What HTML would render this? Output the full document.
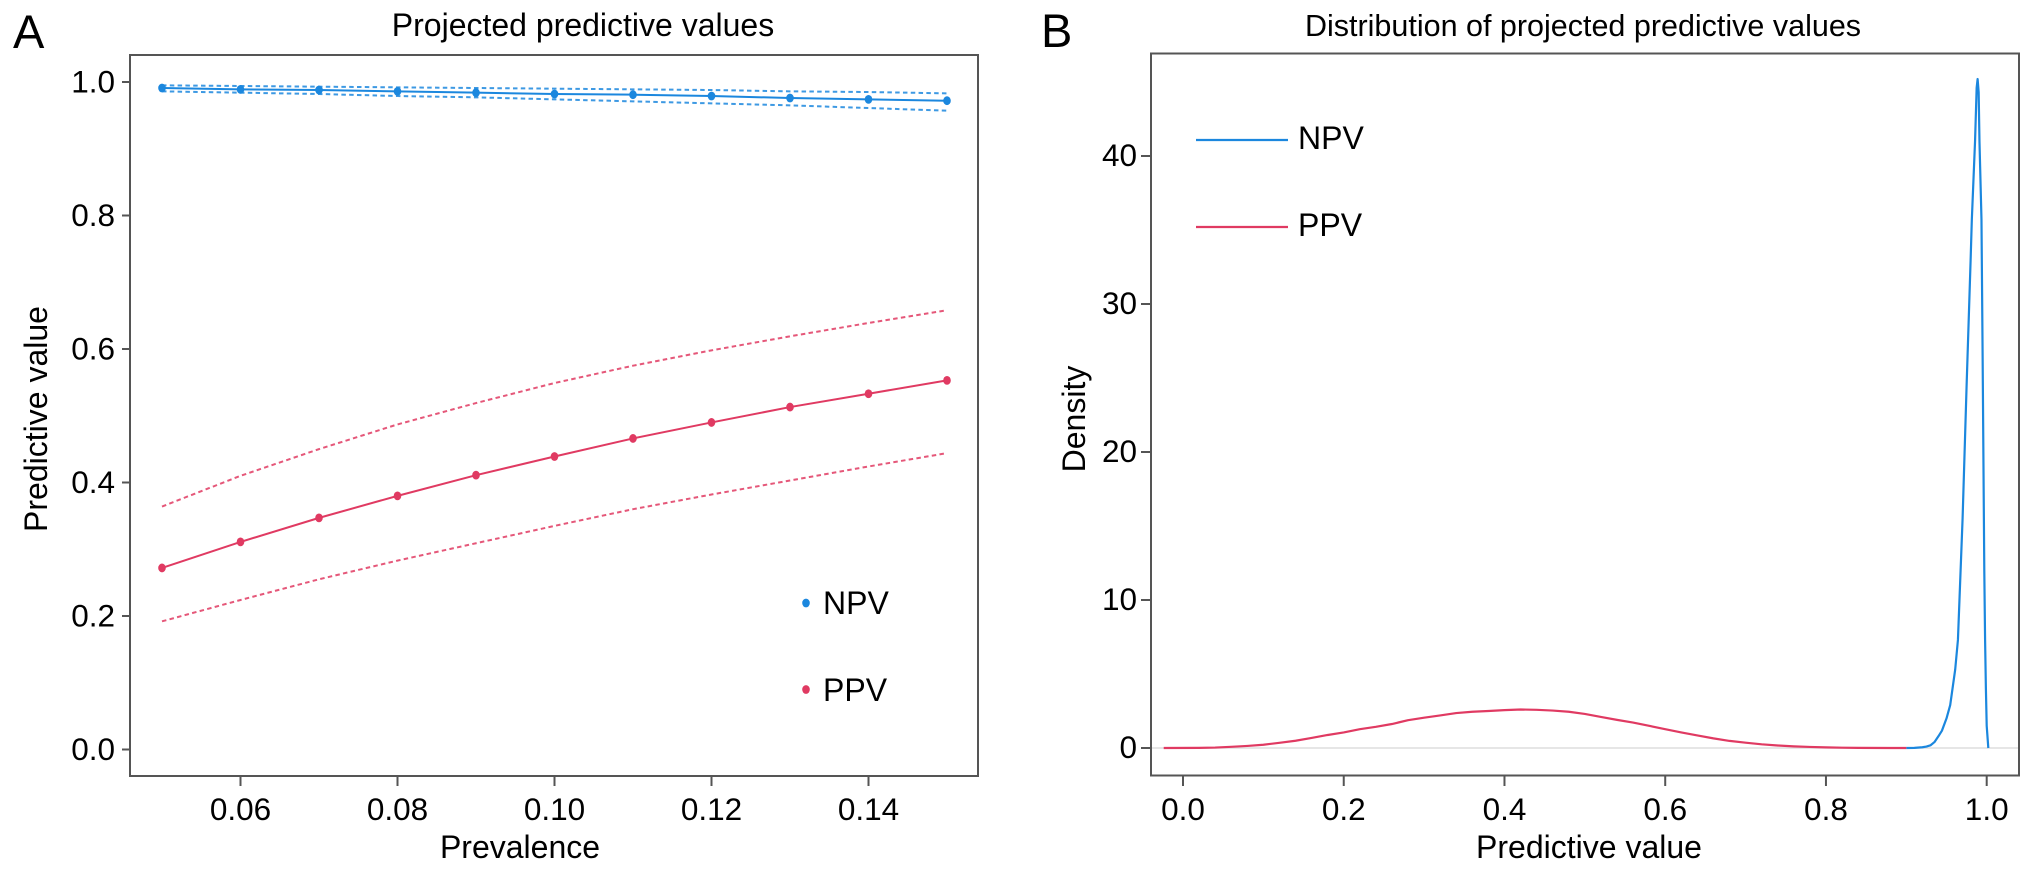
<!DOCTYPE html>
<html>
<head>
<meta charset="utf-8">
<title>Projected predictive values</title>
<style>
html,body{margin:0;padding:0;background:#fff;width:2032px;height:872px;overflow:hidden}
svg{display:block}
text{font-family:"Liberation Sans",Arial,sans-serif;fill:#000;font-size:31.5px}
</style>
</head>
<body>
<svg id="fig" width="2032" height="872" viewBox="0 0 2032 872" xmlns="http://www.w3.org/2000/svg">
  <rect width="2032" height="872" fill="#fff"/>
  <text x="13" y="48" style="font-size:47px">A</text>
  <text x="1041" y="47" style="font-size:47px">B</text>
  <text x="583" y="36" text-anchor="middle" style="font-size:32px">Projected predictive values</text>
  <text x="1583" y="36" text-anchor="middle" style="font-size:30.5px">Distribution of projected predictive values</text>
  <text x="520" y="858" text-anchor="middle" style="font-size:32px">Prevalence</text>
  <text x="1589" y="858" text-anchor="middle" style="font-size:32px">Predictive value</text>
  <text transform="translate(47,419) rotate(-90)" text-anchor="middle" style="font-size:32px">Predictive value</text>
  <text transform="translate(1085,419) rotate(-90)" text-anchor="middle" style="font-size:32px">Density</text>
  <g id="a"></g>
  <g id="b"></g>
  <rect x="130" y="55" width="848" height="721" fill="none" stroke="#555" stroke-width="2"/>
  <rect x="1151" y="53.5" width="868" height="722" fill="none" stroke="#555" stroke-width="2"/>
  <ellipse cx="806" cy="603" rx="3.8" ry="4.4" fill="#1b87de"/>
  <ellipse cx="806" cy="689.5" rx="3.8" ry="4.4" fill="#e03a62"/>
  <text x="823" y="614" style="font-size:32px">NPV</text>
  <text x="823" y="701" style="font-size:32px">PPV</text>
  <line x1="1196" y1="140" x2="1288" y2="140" stroke="#1b87de" stroke-width="2.2"/>
  <line x1="1196" y1="227" x2="1288" y2="227" stroke="#e03a62" stroke-width="2.2"/>
  <text x="1298" y="149" style="font-size:32px">NPV</text>
  <text x="1298" y="236" style="font-size:32px">PPV</text>
</svg>
<script>
const prevalence = [0.05,0.06,0.07,0.08,0.09,0.10,0.11,0.12,0.13,0.14,0.15];
const npvMean  = [0.991,0.989,0.988,0.986,0.984,0.982,0.981,0.979,0.976,0.974,0.972];
const npvUpper = [0.995,0.994,0.993,0.992,0.991,0.990,0.989,0.988,0.986,0.985,0.983];
const npvLower = [0.986,0.984,0.982,0.979,0.977,0.974,0.971,0.968,0.965,0.961,0.957];
const ppvMean  = [0.272,0.311,0.347,0.380,0.411,0.439,0.466,0.490,0.513,0.533,0.553];
const ppvUpper = [0.364,0.410,0.450,0.487,0.519,0.549,0.575,0.598,0.619,0.639,0.658];
const ppvLower = [0.192,0.224,0.255,0.283,0.309,0.335,0.360,0.382,0.403,0.424,0.444];
const aXTicks = ["0.06","0.08","0.10","0.12","0.14"];
const aYTicks = ["0.0","0.2","0.4","0.6","0.8","1.0"];
const bXTicks = ["0.0","0.2","0.4","0.6","0.8","1.0"];
const bYTicks = ["0","10","20","30","40"];
const ppvDensityX = [-0.024,0.02,0.04,0.06,0.08,0.10,0.12,0.14,0.16,0.18,0.20,0.22,0.24,0.26,0.28,0.30,0.32,0.34,0.36,0.38,0.40,0.42,0.44,0.46,0.48,0.50,0.52,0.54,0.56,0.58,0.60,0.62,0.64,0.66,0.68,0.70,0.72,0.74,0.76,0.78,0.80,0.82,0.84,0.88,0.90];
const ppvDensityY = [0,0.01,0.03,0.08,0.14,0.22,0.35,0.49,0.68,0.88,1.05,1.27,1.43,1.62,1.88,2.05,2.2,2.36,2.45,2.5,2.56,2.6,2.58,2.53,2.45,2.3,2.1,1.9,1.72,1.5,1.27,1.05,0.85,0.65,0.48,0.36,0.25,0.17,0.11,0.07,0.04,0.02,0.01,0,0];
const npvDensityX = [0.90,0.91,0.92,0.925,0.93,0.935,0.94,0.9443,0.95,0.9546,0.9608,0.9642,0.97,0.975,0.98,0.9815,0.9855,0.9875,0.9887,0.99,0.991,0.9935,0.995,0.997,0.998,0.999,1.0,1.002];
const npvDensityY = [0,0.01,0.05,0.1,0.18,0.4,0.8,1.17,2,2.9,5.3,7.3,15.5,24.5,33,35.7,41,44.6,45.2,44.3,41,35.7,26,12,7.3,4,1.5,0];

const NS = 'http://www.w3.org/2000/svg';
const BLUE = '#1b87de', RED = '#e03a62', TICK = '#555';
const panelA = document.getElementById('a');
const panelB = document.getElementById('b');
function make(tag, parent, attrs, txt) {
  const el = document.createElementNS(NS, tag);
  for (const k in attrs) el.setAttribute(k, attrs[k]);
  if (txt !== undefined) el.textContent = txt;
  parent.appendChild(el);
  return el;
}
const ax = v => 162 + (v - 0.05) * 7850;
const ay = v => 749.5 - v * 667.5;
const bx = v => 1183 + v * 803.7;
const by = v => 748 - v * 14.8;
const pathOf = (xs, ys, fx, fy) => xs.map((x, i) => fx(x).toFixed(2) + ',' + fy(ys[i]).toFixed(2)).join(' ');

aXTicks.forEach(t => {
  const x = ax(parseFloat(t));
  const tk = make('line', panelA, {x1:x, x2:x, y1:776, y2:786, stroke:TICK, 'stroke-width':2});
  
  
  const lb = make('text', panelA, {x:x, y:820, 'text-anchor':'middle'}, t);
  
  
});
aYTicks.forEach(t => {
  const y = ay(parseFloat(t));
  const tk = make('line', panelA, {x1:122, x2:130, y1:y, y2:y, stroke:TICK, 'stroke-width':2});
  
  
  const lb = make('text', panelA, {x:115, y:y + 10.5, 'text-anchor':'end'}, t);
  
  
});
bXTicks.forEach(t => {
  const x = bx(parseFloat(t));
  const tk = make('line', panelB, {x1:x, x2:x, y1:775, y2:786, stroke:TICK, 'stroke-width':2});
  
  
  const lb = make('text', panelB, {x:x, y:820, 'text-anchor':'middle'}, t);
  
  
});
bYTicks.forEach(t => {
  const y = by(parseFloat(t));
  const tk = make('line', panelB, {x1:1141, x2:1151, y1:y, y2:y, stroke:TICK, 'stroke-width':2});
  
  
  const lb = make('text', panelB, {x:1137, y:y + 10, 'text-anchor':'end'}, t);
  
  
});

function drawBand(values, color) {
  const l = make('polyline', panelA, {points:pathOf(prevalence, values, ax, ay), fill:'none', stroke:color, 'stroke-width':2, 'stroke-opacity':0.85, 'stroke-dasharray':'4.5 3.3'});
  
  
}
function drawMean(values, color) {
  const l = make('polyline', panelA, {points:pathOf(prevalence, values, ax, ay), fill:'none', stroke:color, 'stroke-width':2});
  
  
  values.forEach((v, i) => {
    const c = make('ellipse', panelA, {cx:ax(prevalence[i]), cy:ay(v), rx:3.8, ry:4.4, fill:color});
    
    
  });
}
drawBand(npvUpper, BLUE);
drawBand(npvLower, BLUE);
drawMean(npvMean, BLUE);
drawBand(ppvUpper, RED);
drawBand(ppvLower, RED);
drawMean(ppvMean, RED);

const zero = make('line', panelB, {x1:1152, x2:2018, y1:by(0), y2:by(0), stroke:'#dedede', 'stroke-width':1.6});


const npvCurve = make('polyline', panelB, {points:pathOf(npvDensityX, npvDensityY, bx, by), fill:'none', stroke:BLUE, 'stroke-width':2.2, 'stroke-linejoin':'round'});


const ppvCurve = make('polyline', panelB, {points:pathOf(ppvDensityX, ppvDensityY, bx, by), fill:'none', stroke:RED, 'stroke-width':2.2, 'stroke-linejoin':'round'});


</script>
</body>
</html>
